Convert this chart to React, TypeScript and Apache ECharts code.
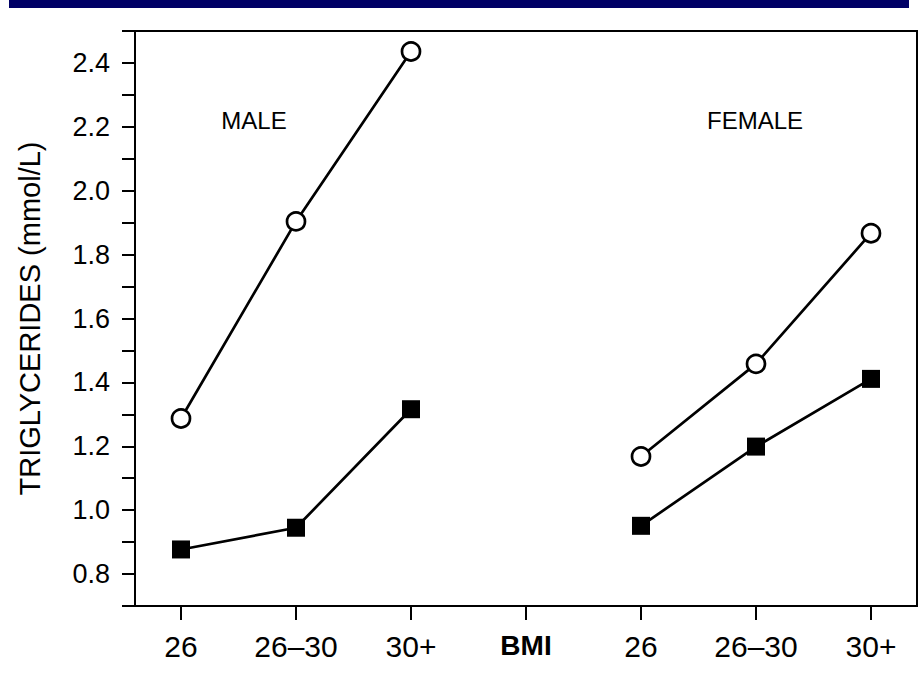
import React, { useEffect, useRef } from "react";
import * as echarts from "echarts";

const categories = ["26", "26–30", "30+", "BMI", "26", "26–30", "30+"];
const categoryPositions = [1, 2, 3, 4, 5, 6, 7];
const maleOpen = [1.287, 1.904, 2.436];
const maleFilled = [0.877, 0.945, 1.316];
const femaleOpen = [1.168, 1.458, 1.867];
const femaleFilled = [0.951, 1.199, 1.411];
const malePositions = [1, 2, 3];
const femalePositions = [5, 6, 7];
const groupLabels = ["MALE", "FEMALE"];
const yAxisTitle = "TRIGLYCERIDES (mmol/L)";

const FONT = "'Liberation Sans', Arial, Helvetica, sans-serif";

function pairs(xs: number[], ys: number[]) {
  return xs.map((x, i) => [x, ys[i]]);
}

export default function App() {
  const ref = useRef<HTMLDivElement>(null);

  useEffect(() => {
    if (!ref.current) return;
    const chart = echarts.init(ref.current, undefined, { renderer: "svg" });

    const openSeries = (data: number[][]) => ({
      type: "line",
      data,
      symbol: "circle",
      symbolSize: 18,
      lineStyle: { color: "#000", width: 2.7 },
      itemStyle: { color: "#fff", borderColor: "#000", borderWidth: 2.7 },
      z: 3,
    });
    const filledSeries = (data: number[][]) => ({
      type: "line",
      data,
      symbol: "rect",
      symbolSize: 18,
      lineStyle: { color: "#000", width: 2.7 },
      itemStyle: { color: "#000", borderColor: "#000", borderWidth: 0 },
      z: 3,
    });

    chart.setOption({
      animation: false,
      backgroundColor: "#fff",
      textStyle: { fontFamily: FONT, color: "#000" },
      grid: {
        left: 135,
        right: 3,
        top: 31,
        bottom: 76,
        show: true,
        borderColor: "#000",
        borderWidth: 2,
        backgroundColor: "transparent",
      },
      xAxis: {
        type: "value",
        min: 0.6,
        max: 7.4,
        axisLine: { show: true, lineStyle: { color: "#000", width: 2 } },
        axisTick: {
          show: true,
          customValues: categoryPositions,
          length: 14,
          lineStyle: { color: "#000", width: 2 },
        },
        splitLine: { show: false },
        axisLabel: {
          customValues: categoryPositions,
          margin: 25,
          fontSize: 30,
          color: "#000",
          fontFamily: FONT,
          formatter: (v: number) => {
            const idx = Math.round(v) - 1;
            const t = categories[idx] ?? "";
            return t === "BMI" ? "{b|BMI}" : t;
          },
          rich: {
            b: { fontSize: 28, fontWeight: "bold", color: "#000", fontFamily: FONT },
          },
        },
      },
      yAxis: {
        type: "value",
        min: 0.7,
        max: 2.5,
        interval: 0.1,
        name: yAxisTitle,
        nameLocation: "middle",
        nameRotate: 90,
        nameGap: 91,
        nameTextStyle: { fontSize: 29, color: "#000", fontFamily: FONT },
        axisLine: { show: true, lineStyle: { color: "#000", width: 2 } },
        axisTick: { show: true, length: 13, lineStyle: { color: "#000", width: 2 } },
        splitLine: { show: false },
        axisLabel: {
          margin: 25,
          fontSize: 27,
          color: "#000",
          fontFamily: FONT,
          formatter: (v: number) => {
            const k = Math.round(v * 10);
            return k % 2 === 0 ? (k / 10).toFixed(1) : "";
          },
        },
      },
      series: [
        openSeries(pairs(malePositions, maleOpen)),
        filledSeries(pairs(malePositions, maleFilled)),
        openSeries(pairs(femalePositions, femaleOpen)),
        filledSeries(pairs(femalePositions, femaleFilled)),
      ],
      graphic: [
        {
          type: "rect",
          shape: { x: 9, y: 0, width: 900, height: 8 },
          style: { fill: "#000066" },
        },
        {
          type: "text",
          x: 254,
          y: 120,
          style: {
            text: groupLabels[0],
            font: `24px ${FONT}`,
            fill: "#000",
            textAlign: "center",
            textVerticalAlign: "middle",
          },
        },
        {
          type: "text",
          x: 755,
          y: 120,
          style: {
            text: groupLabels[1],
            font: `24px ${FONT}`,
            fill: "#000",
            textAlign: "center",
            textVerticalAlign: "middle",
          },
        },
      ],
    });

    return () => chart.dispose();
  }, []);

  return (
    <div
      ref={ref}
      style={{ position: "fixed", left: 0, top: 0, width: 920, height: 682, background: "#fff" }}
    />
  );
}
